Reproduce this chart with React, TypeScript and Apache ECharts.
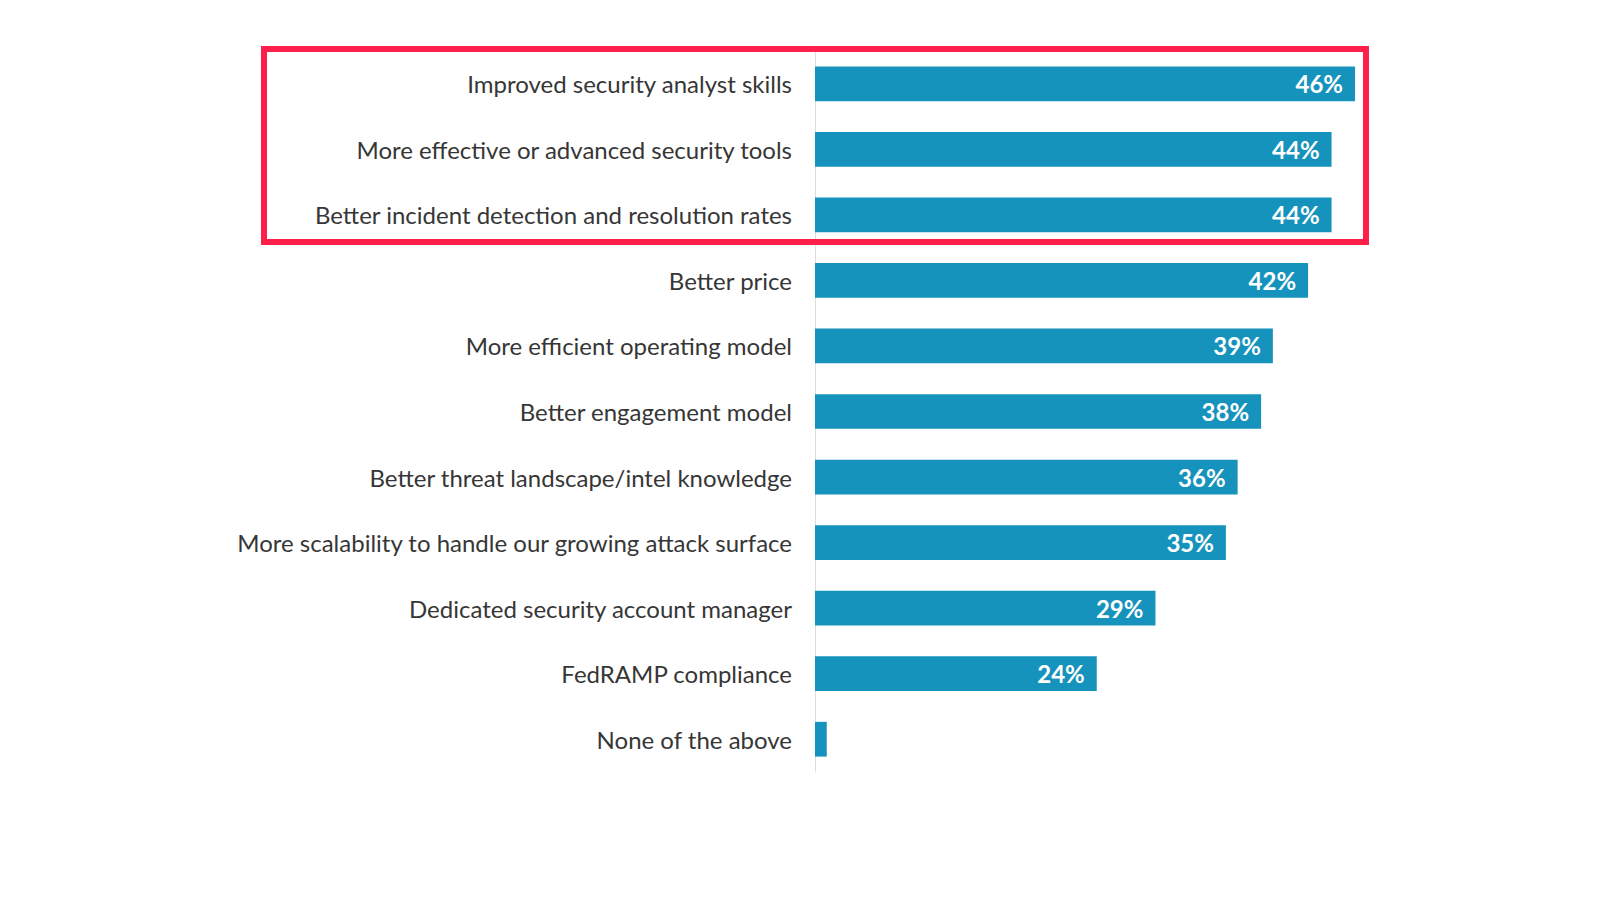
import React, { useEffect, useRef } from "react";
import * as echarts from "echarts";

const categories = [
  "Improved security analyst skills",
  "More effective or advanced security tools",
  "Better incident detection and resolution rates",
  "Better price",
  "More efficient operating model",
  "Better engagement model",
  "Better threat landscape/intel knowledge",
  "More scalability to handle our growing attack surface",
  "Dedicated security account manager",
  "FedRAMP compliance",
  "None of the above",
];
const values = [46, 44, 44, 42, 39, 38, 36, 35, 29, 24, 1];
const showLabel = [true, true, true, true, true, true, true, true, true, true, false];

export default function App() {
  const ref = useRef<HTMLDivElement>(null);
  useEffect(() => {
    if (!ref.current) return;
    const chart = echarts.init(ref.current, undefined, { renderer: "svg" });
    chart.setOption({
      animation: false,
      backgroundColor: "#ffffff",
      grid: { left: 815, top: 51, width: 587, height: 721, containLabel: false },
      xAxis: {
        type: "value",
        min: 0,
        max: 50,
        show: false,
      },
      yAxis: {
        type: "category",
        inverse: true,
        data: categories,
        axisLine: { show: true, lineStyle: { color: "#dddddd", width: 1 } },
        axisTick: { show: false },
        axisLabel: {
          margin: 23,
          fontFamily: "Lato",
          fontSize: 24,
          color: "#363636",
        },
        splitLine: { show: false },
      },
      series: [
        {
          type: "bar",
          barWidth: "53%",
          data: values.map((v, i) => ({
            value: v,
            label: { show: showLabel[i] },
          })),
          itemStyle: { color: "#1693bc" },
          label: {
            show: true,
            position: "insideRight",
            distance: 12,
            formatter: "{c}%",
            color: "#ffffff",
            fontFamily: "Lato",
            fontWeight: "bold",
            fontSize: 24,
          },
        },
      ],
      graphic: [
        {
          type: "rect",
          shape: { x: 264, y: 49, width: 1102, height: 193 },
          style: { fill: "none", stroke: "#ff1f4b", lineWidth: 6 },
          z: 100,
        },
      ],
    });
    return () => chart.dispose();
  }, []);
  return (
    <div
      ref={ref}
      style={{ position: "fixed", left: 0, top: 0, width: 1600, height: 900, background: "#fff" }}
    />
  );
}
